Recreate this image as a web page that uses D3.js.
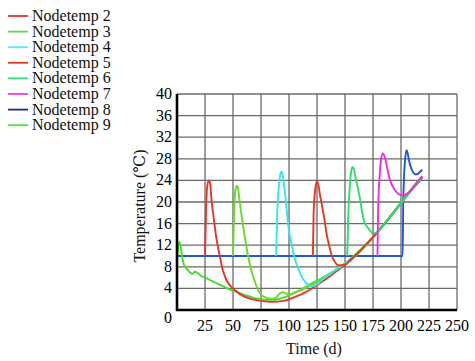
<!DOCTYPE html>
<html>
<head>
<meta charset="utf-8">
<script src="https://cdn.jsdelivr.net/npm/d3@7"></script>
<style>
  body { margin: 0; background: #fff; }
  svg { display: block; font-family: "Liberation Serif", "DejaVu Serif", serif; }
</style>
</head>
<body>
<svg id="chart" width="475" height="361"></svg>
<script>
// series names + colours
var names = ['Nodetemp 2', 'Nodetemp 3', 'Nodetemp 4', 'Nodetemp 5', 'Nodetemp 6', 'Nodetemp 7', 'Nodetemp 8', 'Nodetemp 9'];
var colors = ['#e8352a', '#66dd22', '#33e6ee', '#e23a1e', '#2fdc6e', '#ee2ee0', '#2457d8', '#3ee02e'];
var legendColors = ['#e8352a', '#5fdc3a', '#55eef2', '#e23a1e', '#33dd77', '#ee44dd', '#1c2a8c', '#44ee33'];

var xTicks = [25, 50, 75, 100, 125, 150, 175, 200, 225, 250];
var yTicks = [0, 4, 8, 12, 16, 20, 24, 28, 32, 36, 40];

// [day, temperature]
var node2 = [[25,10],[26,19],[27,23],[28.5,24],[29.5,23.5],[31,20],[32.5,17.5],[35,13.5],[38,10.2],[41,7.3],[44,5.6],[48,4.4],[52,3.6],[58,2.7],[65,2.1],[75,1.7],[85,1.5],[95,1.7],[105,2.4],[115,3.3],[125,4.6],[135,6.0],[145,7.6],[155,9.2],[165,11.2],[175,13.4],[185,15.9],[195,18.4],[205,21.1],[212,22.8],[219,24.5]];
var node3 = [[50,10],[51,18],[52,22],[53.3,23],[54.5,22.5],[56,20],[58,17],[60.5,13.6],[63.5,10],[66,7.6],[68,6.2],[71,4.4],[74,3.1],[78,2.4],[83,2.1],[88,2.2],[91,2.9],[94,3.3],[97,3.1],[100,2.9],[105,3.2],[115,4.1],[125,5.2],[135,6.5],[145,7.9],[155,9.5],[165,11.4],[175,13.6],[185,16.0],[195,18.6],[205,21.3],[212,23.0],[219,24.7]];
var node4 = [[88.5,10],[89.5,18],[91,23],[92.5,25.3],[93.5,25.6],[95,24],[96.5,21.5],[98,18.5],[99.5,15.4],[102,12.5],[104,10.5],[107,8.3],[110,6.8],[113,5.6],[116,4.9],[120,4.4],[124,4.6],[128,5.3],[131,5.9],[138,6.9],[145,7.9],[155,9.3],[165,11.2],[175,13.4],[185,15.8],[195,18.4],[205,21.1],[212,22.9],[219,24.6]];
var node5 = [[121.3,10],[122,18],[123.5,22.5],[125,23.8],[126,23.4],[127.5,21.5],[129,19.8],[131.5,17],[133.5,14.2],[136,11.8],[138,10.2],[141,8.9],[144,8.3],[147,8.3],[150,8.4],[155,9.3],[165,11.3],[175,13.5],[185,15.9],[195,18.5],[205,21.2],[212,22.9],[219,24.5]];
var node6 = [[152,10],[153,18],[154.5,23.5],[156,26.2],[157,26.5],[158,26],[159.5,24.5],[161.5,22.5],[163.5,20.5],[165,18.5],[167,16.5],[169.5,15.5],[172,14.8],[175,14.2],[180,14.6],[185,15.9],[195,18.5],[205,21.2],[212,22.9],[219,24.6]];
var node7 = [[179,10],[179.5,18],[181,25],[182.5,28.3],[184,29],[185.5,28.3],[187,27],[189,25],[191,23.6],[194,22.4],[197,21.6],[200,21.3],[203,21.3],[206,21.6],[212,23.1],[219,24.8]];
var node8 = [[0,10],[201.5,10],[202,20],[203.5,27.5],[205,29.6],[206,29],[207,27.8],[208.5,26.6],[210,25.8],[211.5,25.3],[213,25.1],[215,25.2],[217,25.6],[219,26]];
var node9 = [[0,9.6],[1,11.5],[2,12.6],[3,12],[4.5,10],[6,8.5],[8,7.8],[10,7.3],[12,6.9],[14,6.7],[16,7.1],[18,6.9],[21,6.4],[25,6],[30,5.5],[35,5],[40,4.5],[45,4],[50,3.6],[55,3.2],[60,2.8],[65,2.5],[70,2.2],[75,2.0],[80,1.9],[85,1.9],[90,2.0],[95,2.3],[100,2.7],[105,3.2],[110,3.7],[115,4.3],[120,4.9],[125,5.4],[130,6],[135,6.6],[140,7.2],[145,7.9],[150,8.5],[155,9.3],[160,10.1],[165,11.2],[170,12.3],[175,13.5],[180,14.7],[185,15.9],[190,17.2],[195,18.5],[200,19.8],[205,21.1],[210,22.4],[215,23.6],[219,24.7]];

var series = [node2, node3, node4, node5, node6, node7, node8, node9];
// draw order: blue first so the peaks sit on top of it
var drawOrder = [6, 7, 0, 1, 2, 3, 4, 5];

var svg = d3.select('#chart');
var plotLeft = 177, plotRight = 457, plotTop = 94, plotBottom = 310;

var x = d3.scaleLinear().domain([0, 250]).range([plotLeft, plotRight]);
var y = d3.scaleLinear().domain([0, 40]).range([plotBottom, plotTop]);

// grid
var grid = svg.append('g');
grid.selectAll('line.v')
    .data(xTicks)
    .enter().append('line')
    .attr('class', 'v')
    .attr('x1', function(d) { return x(d); })
    .attr('x2', function(d) { return x(d); })
    .attr('y1', plotTop).attr('y2', plotBottom)
    .attr('stroke', '#6a6a6a').attr('stroke-width', 1.3);
grid.selectAll('line.h')
    .data(yTicks.filter(function(d) { return d > 0; }))
    .enter().append('line')
    .attr('class', 'h')
    .attr('y1', function(d) { return y(d); })
    .attr('y2', function(d) { return y(d); })
    .attr('x1', plotLeft).attr('x2', plotRight)
    .attr('stroke', '#6a6a6a').attr('stroke-width', 1.3);

// curves
var line = d3.line()
    .x(function(d) { return x(d[0]); })
    .y(function(d) { return y(d[1]); })
    .curve(d3.curveMonotoneX);

drawOrder.forEach(function(i) {
    svg.append('path')
        .datum(series[i])
        .attr('fill', 'none')
        .attr('stroke', colors[i])
        .attr('stroke-width', 1.9)
        .attr('stroke-linejoin', 'round')
        .attr('d', line);
});

// axes (thick black left + bottom)
svg.append('line')
    .attr('x1', plotLeft).attr('x2', plotLeft).attr('y1', plotTop).attr('y2', plotBottom + 1)
    .attr('stroke', '#000').attr('stroke-width', 2.6);
svg.append('line')
    .attr('x1', plotLeft - 1).attr('x2', plotRight).attr('y1', plotBottom).attr('y2', plotBottom)
    .attr('stroke', '#000').attr('stroke-width', 2.6);

// tick labels
svg.append('g').selectAll('text')
    .data(yTicks)
    .enter().append('text')
    .attr('x', 172)
    .attr('y', function(d) { return y(d) + (d === 0 ? 13 : 5); })
    .attr('text-anchor', 'end')
    .attr('font-size', 16)
    .attr('fill', '#000')
    .text(function(d) { return d; });

svg.append('g').selectAll('text')
    .data(xTicks)
    .enter().append('text')
    .attr('x', function(d) { return x(d); })
    .attr('y', plotBottom + 21)
    .attr('text-anchor', 'middle')
    .attr('font-size', 16)
    .attr('fill', '#000')
    .text(function(d) { return d; });

// axis titles
svg.append('text')
    .attr('transform', 'translate(145,' + ((plotTop + plotBottom) / 2 + 4) + ') rotate(-90)')
    .attr('text-anchor', 'middle')
    .attr('font-size', 16)
    .attr('fill', '#111')
    .text('Temperature (\u2103)');

svg.append('text')
    .attr('x', (plotLeft + plotRight) / 2 - 3)
    .attr('y', 354)
    .attr('text-anchor', 'middle')
    .attr('font-size', 16)
    .attr('fill', '#111')
    .text('Time (d)');

// legend
var legend = svg.append('g');
names.forEach(function(name, i) {
    var ly = 16 + i * 15.6;
    legend.append('line')
        .attr('x1', 8).attr('x2', 28)
        .attr('y1', ly).attr('y2', ly)
        .attr('stroke', legendColors[i]).attr('stroke-width', 1.8);
    legend.append('text')
        .attr('x', 32).attr('y', ly + 5)
        .attr('font-size', 16)
        .attr('fill', '#111')
        .text(name);
});
</script>
</body>
</html>
